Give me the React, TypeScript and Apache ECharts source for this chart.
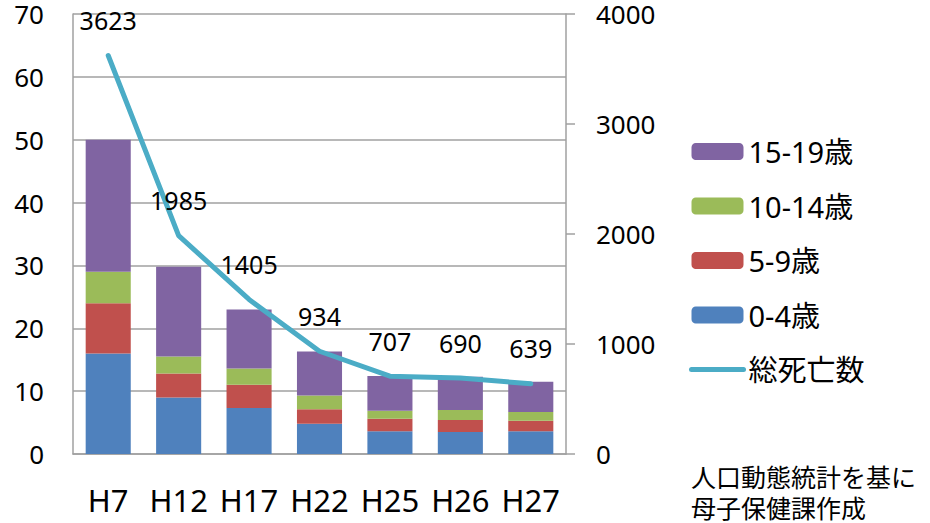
import React, { useEffect, useRef } from 'react';
import * as echarts from 'echarts';

const categories = ['H7', 'H12', 'H17', 'H22', 'H25', 'H26', 'H27'];
const age0to4 = [16, 9, 7.3, 4.8, 3.6, 3.5, 3.6];
const age5to9 = [8, 3.8, 3.7, 2.3, 2.0, 1.9, 1.7];
const age10to14 = [5, 2.7, 2.6, 2.2, 1.3, 1.6, 1.4];
const age15to19 = [21, 14.3, 9.4, 7.0, 5.5, 5.3, 4.8];
const totalDeaths = [3623, 1985, 1405, 934, 707, 690, 639];
const sourceLines = ['人口動態統計を基に', '母子保健課作成'];

const FONT = "'Noto Sans', 'Noto Sans CJK JP', sans-serif";
const AXIS_GRAY = '#a0a0a0';
const LINE_COLOR = '#4bacc6';

const App: React.FC = () => {
    const chartRef = useRef<HTMLDivElement>(null);

    useEffect(() => {
        const chartDom = chartRef.current!;
        const myChart = echarts.init(chartDom, undefined, { renderer: 'svg' });

        const barSeries = (name: string, data: number[], color: string) => ({
            name,
            type: 'bar' as const,
            stack: 'rate',
            barWidth: '64%',
            data,
            itemStyle: { color },
        });

        const option: echarts.EChartsOption = {
            animation: false,
            textStyle: { fontFamily: FONT },
            grid: { left: 73, right: 364, top: 14, bottom: 69 },
            legend: {
                orient: 'vertical',
                left: 689,
                top: 137,
                padding: 0,
                itemWidth: 52,
                itemHeight: 17,
                itemGap: 25.5,
                itemTextGap: 6,
                textStyle: { fontSize: 29, lineHeight: 29, color: '#000', fontFamily: FONT },
                data: [
                    '15-19歳',
                    '10-14歳',
                    '5-9歳',
                    '0-4歳',
                    {
                        name: '総死亡数',
                        itemStyle: { opacity: 0 },
                        lineStyle: { width: 5, color: LINE_COLOR, cap: 'round' },
                    },
                ],
            },
            xAxis: {
                type: 'category',
                data: categories,
                axisLine: { lineStyle: { color: AXIS_GRAY, width: 1.5 } },
                axisTick: { show: false },
                axisLabel: { fontSize: 31, color: '#000', margin: 30, interval: 0 },
            },
            yAxis: [
                {
                    type: 'value',
                    min: 0,
                    max: 70,
                    interval: 10,
                    axisLine: { show: true, lineStyle: { color: AXIS_GRAY, width: 1.5 } },
                    axisTick: { show: false },
                    splitLine: { lineStyle: { color: AXIS_GRAY, width: 1.5 } },
                    axisLabel: { fontSize: 26, color: '#000', margin: 29 },
                },
                {
                    type: 'value',
                    min: 0,
                    max: 4000,
                    interval: 1000,
                    position: 'right',
                    axisLine: { show: true, lineStyle: { color: AXIS_GRAY, width: 1.5 } },
                    axisTick: { show: true, length: 9, lineStyle: { color: AXIS_GRAY, width: 1.5 } },
                    splitLine: { show: false },
                    axisLabel: { fontSize: 26, color: '#000', margin: 30, formatter: (v: number) => String(v) },
                },
            ],
            series: [
                barSeries('0-4歳', age0to4, '#4f81bd'),
                barSeries('5-9歳', age5to9, '#c0504d'),
                barSeries('10-14歳', age10to14, '#9bbb59'),
                barSeries('15-19歳', age15to19, '#8064a2'),
                {
                    name: '総死亡数',
                    type: 'line',
                    yAxisIndex: 1,
                    data: totalDeaths,
                    symbol: 'circle',
                    symbolSize: 2,
                    itemStyle: { color: LINE_COLOR },
                    lineStyle: { color: LINE_COLOR, width: 5, cap: 'round' },
                    label: {
                        show: true,
                        position: 'top',
                        distance: 22,
                        fontSize: 25,
                        color: '#000',
                        fontFamily: FONT,
                    },
                    z: 5,
                },
            ],
            graphic: sourceLines.map((text, i) => ({
                type: 'text' as const,
                left: 691,
                top: 463 + i * 31,
                style: {
                    text,
                    fontSize: 25,
                    fill: '#000',
                    fontFamily: "'Noto Sans CJK JP', sans-serif",
                },
            })),
        };

        myChart.setOption(option);

        return () => {
            myChart.dispose();
        };
    }, []);

    return (
        <div
            ref={chartRef}
            style={{ position: 'absolute', left: 0, top: 0, width: 930, height: 523, background: '#fff' }}
        />
    );
};

export default App;
